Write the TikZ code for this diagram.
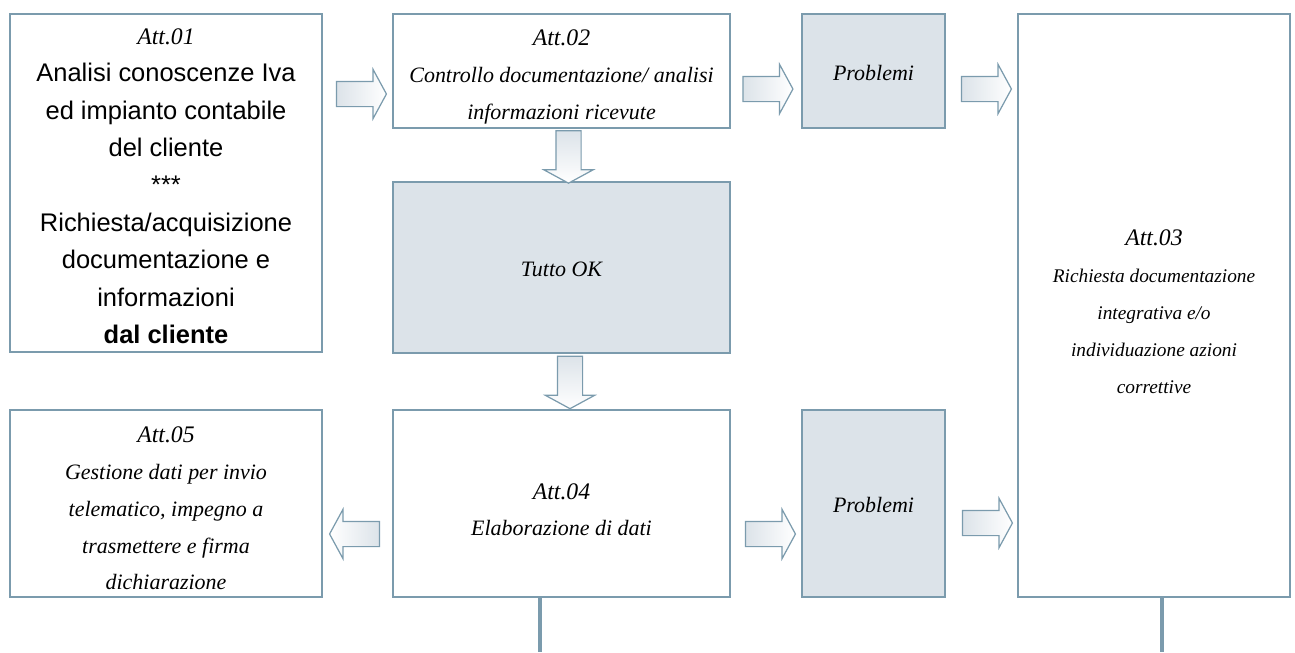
\documentclass[tikz,border=0pt]{standalone}
\usepackage{fontspec}
\setmainfont{Liberation Serif}
\setsansfont{Liberation Sans}
\usetikzlibrary{shapes.arrows}

\definecolor{bordo}{HTML}{7B9BAD}
\definecolor{grigio}{HTML}{DCE3E9}

% intestazione di ogni attivita (il rule abbassa un po' il testo)
\newcommand{\attivita}[2][16pt]{{\fontsize{13.5}{21}\selectfont\rmfamily\itshape\rule{0pt}{#1}Att.#2}}

\begin{document}
\begin{tikzpicture}[att/.style = {draw=bordo, line width=1.1pt, align=center, inner sep=0pt, font=\fontsize{12.5}{21}\selectfont\itshape},
        prob/.style = {att, fill=grigio, execute at begin node={\rule{0pt}{10.6pt}}},
        freccia/.style = {single arrow, draw=bordo, line width=0.7pt, minimum height=1cm, inner sep=0.24cm, text height=0pt, text depth=0pt, single arrow head extend=0.24cm, single arrow tip angle=123},
        destra/.style = {freccia, left color=grigio, right color=white},
        sinistra/.style = {freccia, shape border rotate=180, left color=white, right color=grigio},
        giu/.style = {freccia, minimum height=1.05cm, shape border rotate=270, top color=grigio, bottom color=white},
        linea/.style = {draw=bordo, line width=2.2pt}]
        \useasboundingbox (0, 0) rectangle (25.9, -13.04);

        % riquadri delle attivita
        \node[att, minimum width=6.24cm, minimum height=6.76cm, font=\fontsize{14.5}{21.3}\selectfont\sffamily] at (3.32, -3.66) (att01) {\attivita[12.5pt]{01}\\
            Analisi conoscenze Iva\\ ed impianto contabile\\ del cliente\\ ***\\ Richiesta/acquisizione\\ documentazione e\\ informazioni\\ \textbf{dal cliente}};
        \node[att, minimum width=6.74cm, minimum height=2.28cm] at (11.23, -1.42) (att02) {\attivita{02}\\ Controllo documentazione/ analisi\\ informazioni ricevute};
        \node[prob, minimum width=2.86cm, minimum height=2.28cm] at (17.47, -1.42) (prob1) {Problemi};
        \node[att, minimum width=5.44cm, minimum height=11.66cm, font=\fontsize{11}{21}\selectfont\itshape] at (23.08, -6.11) (att03) {\attivita{03}\\ Richiesta documentazione\\ integrativa e/o\\ individuazione azioni\\ correttive};
        \node[prob, minimum width=6.74cm, minimum height=3.42cm] at (11.23, -5.35) (ok) {Tutto OK};
        \node[att, minimum width=6.74cm, minimum height=3.74cm] at (11.23, -10.07) (att04) {\attivita{04}\\ Elaborazione di dati};
        \node[prob, minimum width=2.86cm, minimum height=3.74cm] at (17.47, -10.07) (prob2) {Problemi};
        \node[att, minimum width=6.24cm, minimum height=3.74cm] at (3.32, -10.07) (att05) {\attivita[14.5pt]{05}\\ Gestione dati per invio\\ telematico, impegno a\\ trasmettere e firma\\ dichiarazione};

        % frecce di passaggio
        \node[destra] at (7.16, -1.88) (f1) {};
        \node[destra] at (15.29, -1.78) (f2) {};
        \node[destra] at (19.66, -1.78) (f3) {};
        \node[giu] at (11.37, -3.07) (f4) {};
        \node[giu] at (11.40, -7.58) (f5) {};
        \node[sinistra] at (7.16, -10.68) (f6) {};
        \node[destra] at (15.34, -10.68) (f7) {};
        \node[destra] at (19.68, -10.46) (f8) {};

        % uscite verso il basso
        \coordinate (fine1) at (10.80, -13.04);
        \coordinate (fine2) at (23.24, -13.04);
        \draw[linea] (att04.south -| fine1) -- (fine1);
        \draw[linea] (att03.south -| fine2) -- (fine2);
    \end{tikzpicture}
\end{document}
